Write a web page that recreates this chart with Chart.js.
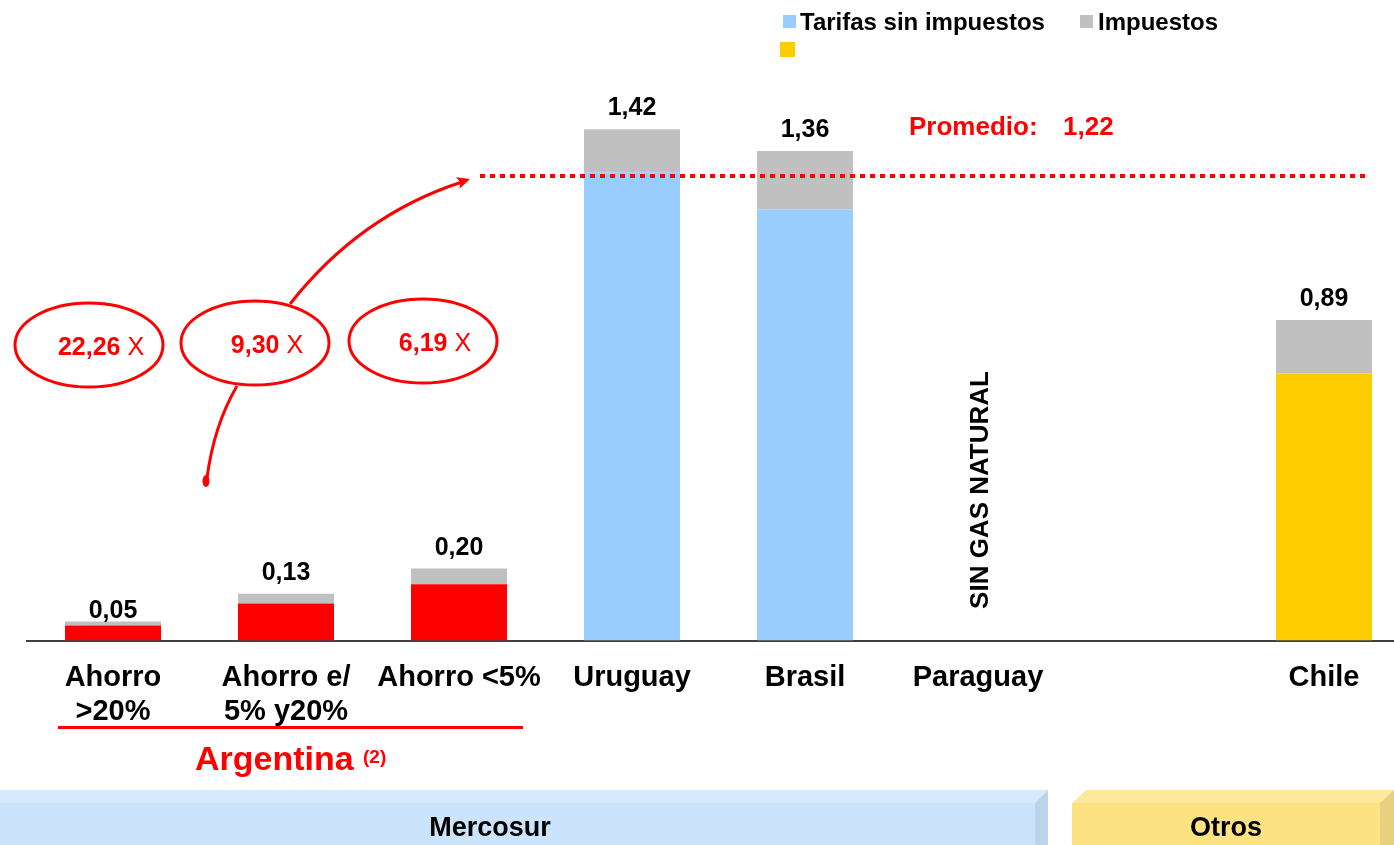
<!DOCTYPE html>
<html>
<head>
<meta charset="utf-8">
<script src="https://cdn.jsdelivr.net/npm/chart.js@4"></script>
<style>
  body { margin: 0; width: 1394px; height: 845px; overflow: hidden; position: relative; background: #fff;
         font-family: "Liberation Sans", Arial, sans-serif; }
  #c { position: absolute; left: 0; top: 0; }
  .lg { position: absolute; font-weight: bold; font-size: 24px; color: #000; line-height: 24px; }
  .sq { position: absolute; }
</style>
</head>
<body>
<canvas id="c" width="1420" height="845" style="width:1420px;height:845px"></canvas>

<div class="sq" style="left:783px;top:15px;width:13px;height:13px;background:#99CCFF"></div>
<div class="lg" style="left:800px;top:10px">Tarifas sin impuestos</div>
<div class="sq" style="left:1080px;top:15px;width:13px;height:13px;background:#C0C0C0"></div>
<div class="lg" style="left:1098px;top:10px">Impuestos</div>
<div class="sq" style="left:780px;top:42px;width:15px;height:15px;background:#FFCC00"></div>

<script>
// --- data ---
const categories = [['Ahorro', '>20%'], ['Ahorro e/', '5% y20%'], 'Ahorro <5%', 'Uruguay', 'Brasil', 'Paraguay', '', 'Chile'];
const tarifas = [0.042, 0.103, 0.156, 1.30, 1.197, null, null, 0.742];
const impuestos = [0.011, 0.027, 0.044, 0.12, 0.163, null, null, 0.148];
const totalLabels = ['0,05', '0,13', '0,20', '1,42', '1,36', '', '', '0,89'];
const tarifaColors = ['#FF0000', '#FF0000', '#FF0000', '#99CCFF', '#99CCFF', '#99CCFF', '#99CCFF', '#FFCC00'];
const multiplos = ['22,26', '9,30', '6,19'];
const promedioTexto = '1,22';
const promedioNivel = 1.29;   // where the dotted line sits in the picture

const FONT = '"Liberation Sans", Arial, sans-serif';

// --- annotation drawing ---
const extras = {
  id: 'extras',
  afterDatasetsDraw(chart) {
    const ctx = chart.ctx;
    const x = chart.scales.x, y = chart.scales.y;
    const top = chart.getDatasetMeta(1).data;

    // totals above the stacks
    ctx.save();
    ctx.fillStyle = '#000';
    ctx.font = 'bold 25px ' + FONT;
    ctx.textAlign = 'center';
    ctx.textBaseline = 'alphabetic';
    top.forEach((bar, i) => {
      if (!totalLabels[i]) return;
      const off = i === 0 ? 3 : 14;
      ctx.fillText(totalLabels[i], bar.x, bar.y - off);
    });

    // average line
    const yAvg = y.getPixelForValue(promedioNivel);
    ctx.strokeStyle = '#FF0000';
    ctx.lineWidth = 4;
    ctx.setLineDash([5, 5]);
    ctx.beginPath();
    ctx.moveTo(x.getPixelForValue(2) + 21, yAvg);
    ctx.lineTo(x.getPixelForValue(7) + 41, yAvg);
    ctx.stroke();
    ctx.setLineDash([]);

    ctx.fillStyle = '#FF0000';
    ctx.font = 'bold 26px ' + FONT;
    ctx.textAlign = 'left';
    ctx.fillText('Promedio:', 909, 135);
    ctx.fillText(promedioTexto, 1063, 135);

    // ellipses with multiples
    const ells = [[89, 345], [255, 343], [423, 341]];
    ctx.lineWidth = 3;
    ells.forEach(([cx, cy], i) => {
      ctx.beginPath();
      ctx.ellipse(cx, cy, 74, 42, 0, 0, Math.PI * 2);
      ctx.stroke();
      ctx.font = 'bold 25px ' + FONT;
      const w1 = ctx.measureText(multiplos[i]).width;
      ctx.font = '25px ' + FONT;
      const w2 = ctx.measureText(' X').width;
      const sx = cx + 12 - (w1 + w2) / 2;
      ctx.font = 'bold 25px ' + FONT;
      ctx.fillText(multiplos[i], sx, cy + 10);
      ctx.font = '25px ' + FONT;
      ctx.fillText(' X', sx + w1, cy + 10);
    });

    // curved arrow to the average line
    ctx.lineWidth = 3;
    ctx.beginPath();
    ctx.moveTo(290, 304);
    ctx.quadraticCurveTo(360, 215, 462, 182);
    ctx.stroke();
    ctx.save();
    ctx.translate(470, 179);
    ctx.rotate(Math.atan2(182 - 215, 462 - 360));
    ctx.beginPath();
    ctx.moveTo(0, 0);
    ctx.lineTo(-13, -6);
    ctx.lineTo(-10, 0);
    ctx.lineTo(-13, 6);
    ctx.closePath();
    ctx.fill();
    ctx.restore();

    ctx.beginPath();
    ctx.moveTo(237, 386);
    ctx.quadraticCurveTo(214, 425, 207, 478);
    ctx.stroke();
    ctx.beginPath();
    ctx.ellipse(206, 481, 3.5, 6, 0, 0, Math.PI * 2);
    ctx.fill();

    // SIN GAS NATURAL
    ctx.save();
    ctx.translate(x.getPixelForValue(5) + 3, 490);
    ctx.rotate(-Math.PI / 2);
    ctx.fillStyle = '#000';
    ctx.font = 'bold 26px ' + FONT;
    ctx.textAlign = 'center';
    ctx.textBaseline = 'middle';
    ctx.fillText('SIN GAS NATURAL', 0, 0);
    ctx.restore();

    // Argentina group
    ctx.fillStyle = '#FF0000';
    ctx.fillRect(58, 726, 465, 3);
    ctx.font = 'bold 34px ' + FONT;
    ctx.textAlign = 'left';
    ctx.fillText('Argentina', 195, 770);
    ctx.font = 'bold 19px ' + FONT;
    ctx.fillText('(2)', 363, 763);

    // bottom bands
    const band = (pts, c) => {
      ctx.fillStyle = c;
      ctx.beginPath();
      pts.forEach(([px, py], k) => k ? ctx.lineTo(px, py) : ctx.moveTo(px, py));
      ctx.closePath();
      ctx.fill();
    };
    band([[0, 790], [1048, 790], [1035, 803], [0, 803]], '#D6E9FD');
    band([[0, 803], [1035, 803], [1035, 845], [0, 845]], '#CCE4FB');
    band([[1035, 803], [1048, 790], [1048, 845], [1035, 845]], '#BCD3EC');
    band([[1072, 803], [1086, 790], [1394, 790], [1380, 803]], '#FDE89B');
    band([[1072, 803], [1380, 803], [1380, 845], [1072, 845]], '#FCE281');
    band([[1380, 803], [1394, 790], [1394, 845], [1380, 845]], '#E7D17F');

    ctx.fillStyle = '#000';
    ctx.font = 'bold 27px ' + FONT;
    ctx.textAlign = 'center';
    ctx.fillText('Mercosur', 490, 836);
    ctx.fillText('Otros', 1226, 836);
    ctx.restore();
  }
};

new Chart(document.getElementById('c'), {
  type: 'bar',
  data: {
    labels: categories,
    datasets: [
      { label: 'Tarifas sin impuestos', data: tarifas, backgroundColor: tarifaColors, borderWidth: 0 },
      { label: 'Impuestos', data: impuestos, backgroundColor: '#C0C0C0', borderWidth: 0 }
    ]
  },
  options: {
    responsive: false,
    animation: false,
    layout: { padding: { top: 28.5, left: 26.5, right: 9.5, bottom: 0 } },
    datasets: { bar: { categoryPercentage: 1, barPercentage: 96 / 173 } },
    plugins: { legend: { display: false }, tooltip: { enabled: false } },
    scales: {
      x: {
        stacked: true,
        offset: true,
        grid: { display: false },
        border: { display: true, color: '#404040', width: 2 },
        afterFit(scale) { scale.height = 204.5; },
        ticks: {
          color: '#000',
          font: { family: FONT, size: 29, weight: 'bold', lineHeight: 1.17 },
          padding: 13,
          maxRotation: 0,
          autoSkip: false
        }
      },
      y: { stacked: true, display: false, min: 0, max: 1.7 }
    }
  },
  plugins: [extras]
});
</script>
</body>
</html>
